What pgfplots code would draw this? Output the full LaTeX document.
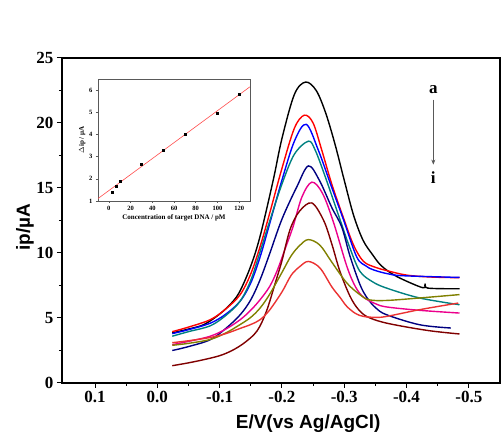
\documentclass[border=0pt]{standalone}
\usepackage{fontspec}
\setmainfont{Liberation Serif}
\newfontfamily\arialb{Liberation Sans}
\usepackage{pgfplots}
\pgfplotsset{compat=1.18}
\usetikzlibrary{arrows.meta}

\definecolor{cTeal}{RGB}{0,128,128}
\definecolor{cNavy}{RGB}{0,0,128}
\definecolor{cWine}{RGB}{128,0,0}
\definecolor{cOlive}{RGB}{128,128,0}
\definecolor{cLRed}{RGB}{235,50,50}

\begin{document}
\begin{tikzpicture}
\useasboundingbox (-62pt,-60pt) rectangle (441pt,383pt);
\begin{axis}[
  at={(0,0)}, anchor=south west,
  scale only axis, width=438pt, height=325pt,
  x dir=reverse,
  xmin=-0.55, xmax=0.153,
  ymin=0, ymax=25,
  xtick={0.1,0,-0.1,-0.2,-0.3,-0.4,-0.5},
  xticklabels={0.1,0.0,-0.1,-0.2,-0.3,-0.4,-0.5},
  minor xtick={0.05,-0.05,-0.15,-0.25,-0.35,-0.45},
  ytick={0,5,10,15,20,25},
  minor ytick={2.5,7.5,12.5,17.5,22.5},
  tick pos=left, tick align=outside,
  major tick length=5pt, minor tick length=3pt,
  every tick/.style={black, line width=1pt},
  axis line style={line width=1.2pt},
  /pgf/number format/assume math mode=true,
  tick label style={font=\fontsize{17}{20}\selectfont\bfseries},
  xlabel={E/V(vs Ag/AgCl)},
  ylabel={ip/\textmu A},
  xlabel style={font=\arialb\fontsize{19}{22}\selectfont\bfseries, at={(axis description cs:0.562,-0.126)}, anchor=center},
  ylabel style={font=\arialb\fontsize{19}{22}\selectfont\bfseries, at={(axis description cs:-0.0845,0.48)}, anchor=center},
  every axis plot/.append style={line width=1.4pt, smooth, tension=0.55},
]
% a
\addplot[black] coordinates {
(-0.024,3.85) (-0.05,4.15) (-0.075,4.5) (-0.1,5.3) (-0.12,6.2) (-0.133,7.1) (-0.15,9.0)
(-0.165,11.3) (-0.186,15.6) (-0.2,18.8) (-0.22,22.2) (-0.238,23.15) (-0.255,22.5) (-0.27,20.8)
(-0.285,18.4) (-0.3,15.6) (-0.315,12.9) (-0.33,11.0) (-0.345,9.9) (-0.36,9.0)
(-0.384,8.2) (-0.426,7.33) (-0.430,7.65) (-0.434,7.3) (-0.485,7.25)};
% b
\addplot[red] coordinates {
(-0.024,3.95) (-0.05,4.3) (-0.085,4.87) (-0.11,5.7) (-0.133,6.8) (-0.15,8.4) (-0.165,10.5)
(-0.18,13.0) (-0.2,16.5) (-0.22,19.6) (-0.236,20.6) (-0.25,20.0) (-0.264,17.9)
(-0.28,15.3) (-0.298,12.8) (-0.315,10.6) (-0.331,9.35) (-0.35,8.9) (-0.368,8.65)
(-0.4,8.3) (-0.44,8.15) (-0.485,8.1)};
% c
\addplot[blue] coordinates {
(-0.024,3.8) (-0.05,4.1) (-0.085,4.6) (-0.11,5.3) (-0.133,6.3) (-0.15,7.7) (-0.165,9.7)
(-0.18,12.2) (-0.2,15.6) (-0.22,18.6) (-0.239,19.9) (-0.2585,17.9)
(-0.278,15.3) (-0.2985,12.6) (-0.32,9.7) (-0.335,9.0) (-0.347,8.7) (-0.37,8.4)
(-0.395,8.25) (-0.485,8.12)};
% d
\addplot[cTeal] coordinates {
(-0.024,3.6) (-0.05,3.95) (-0.085,4.4) (-0.11,5.2) (-0.133,6.3) (-0.15,7.9) (-0.165,10.1)
(-0.18,12.4) (-0.2,15.3) (-0.22,17.6) (-0.2425,18.6) (-0.2535,17.9) (-0.27,15.8)
(-0.293,12.6) (-0.309,10.4) (-0.325,8.6) (-0.345,7.8) (-0.368,7.3) (-0.421,6.54)
(-0.485,6.02)};
% e
\addplot[cNavy] coordinates {
(-0.024,2.5) (-0.05,2.8) (-0.085,3.33) (-0.11,4.2) (-0.133,5.25) (-0.15,6.4) (-0.165,7.95)
(-0.18,9.9) (-0.2,12.6) (-0.224,15.1) (-0.2425,16.7) (-0.26,15.6) (-0.28,13.5)
(-0.296,12.0) (-0.309,9.8) (-0.325,7.6) (-0.336,6.6) (-0.35,5.8) (-0.368,5.25)
(-0.421,4.48) (-0.471,4.23)};
% f
\addplot[magenta] coordinates {
(-0.024,2.95) (-0.05,3.2) (-0.085,3.6) (-0.11,4.15) (-0.133,4.87) (-0.15,5.6) (-0.165,6.41)
(-0.18,7.4) (-0.192,8.6) (-0.205,10.3) (-0.218,12.05) (-0.232,14.3) (-0.248,15.45)
(-0.265,14.6) (-0.2825,12.4) (-0.304,9.0) (-0.318,7.4) (-0.331,6.6) (-0.35,6.1)
(-0.368,5.85) (-0.421,5.59) (-0.485,5.38)};
% g
\addplot[cWine] coordinates {
(-0.024,1.33) (-0.05,1.55) (-0.075,1.8) (-0.1,2.1) (-0.12,2.5) (-0.14,3.1) (-0.16,4.0)
(-0.175,5.5) (-0.19,7.8) (-0.2,9.4) (-0.213,11.8) (-0.228,13.2) (-0.248,13.85)
(-0.267,12.5) (-0.28,10.7) (-0.293,8.6) (-0.309,6.7) (-0.322,5.7) (-0.336,5.12)
(-0.36,4.7) (-0.395,4.35) (-0.44,4.0) (-0.485,3.77)};
% h
\addplot[cOlive] coordinates {
(-0.024,2.9) (-0.05,3.05) (-0.085,3.35) (-0.11,3.85) (-0.133,4.5) (-0.15,5.05) (-0.165,5.77)
(-0.18,6.8) (-0.2,8.5) (-0.215,9.8) (-0.229,10.6) (-0.2425,11.03) (-0.261,10.6)
(-0.28,9.3) (-0.304,7.7) (-0.325,6.8) (-0.34,6.4) (-0.368,6.35) (-0.421,6.54) (-0.485,6.8)};
% i
\addplot[cLRed] coordinates {
(-0.024,3.1) (-0.05,3.25) (-0.085,3.5) (-0.11,3.8) (-0.133,4.2) (-0.15,4.5) (-0.165,4.87)
(-0.18,5.6) (-0.2,7.0) (-0.215,8.3) (-0.229,8.97) (-0.2425,9.35) (-0.261,8.85) (-0.28,7.4)
(-0.293,6.6) (-0.304,5.9) (-0.318,5.35) (-0.331,5.12) (-0.35,5.05) (-0.368,5.12)
(-0.421,5.64) (-0.483,6.15)};

\node[font=\fontsize{17}{20}\selectfont\bfseries] at (axis cs:-0.443,22.6) {a};
\node[font=\fontsize{17}{20}\selectfont\bfseries] at (axis cs:-0.443,15.8) {i};
\draw[gray!70!black, line width=0.6pt, -{Stealth[length=5pt,width=4pt]}] (axis cs:-0.443,21.8) -- (axis cs:-0.443,16.8);
\end{axis}

\begin{axis}[
  at={(36pt,182pt)}, anchor=south west,
  scale only axis, width=152pt, height=122pt,
  xmin=-10, xmax=130, ymin=1, ymax=6.5,
  xtick={0,20,40,60,80,100,120},
  ytick={1,2,3,4,5,6},
  tick pos=left, tick align=outside,
  major tick length=2pt,
  axis line style={gray!70!black, line width=0.7pt},
  every tick/.style={gray!70!black, line width=0.5pt},
  /pgf/number format/assume math mode=true,
  tick label style={font=\fontsize{6.5}{8}\selectfont\bfseries},
  xlabel={Concentration of target DNA / pM},
  ylabel={$\Delta$ip / \textmu A},
  label style={font=\fontsize{7}{8}\selectfont\bfseries},
  xlabel style={yshift=3pt},
  ylabel style={yshift=-3pt},
]
\addplot[red!70, line width=0.6pt] coordinates {(-10,1.11) (130,6.15)};
\addplot[only marks, mark=square*, mark size=1pt, black] coordinates {
(3.5,1.38) (6.5,1.65) (10.5,1.87) (30,2.67) (50,3.31) (70,4.02) (100,4.97) (120,5.80)};
\end{axis}
\end{tikzpicture}
\end{document}
